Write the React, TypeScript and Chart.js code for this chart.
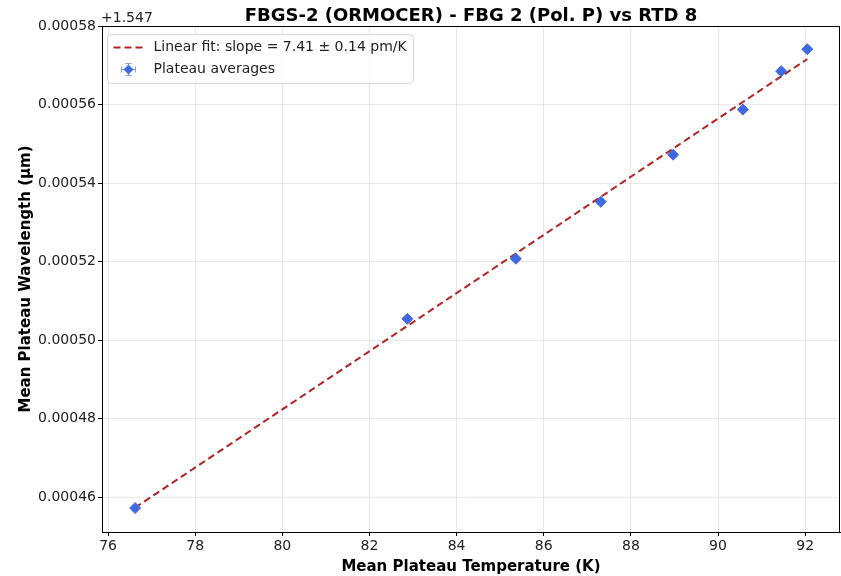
import React, { useEffect, useRef } from "react";
import { Chart, registerables } from "chart.js";

Chart.register(...registerables);

const TITLE = "FBGS-2 (ORMOCER) - FBG 2 (Pol. P) vs RTD 8";
const X_LABEL = "Mean Plateau Temperature (K)";
const Y_LABEL = "Mean Plateau Wavelength (µm)";
const Y_OFFSET_LABEL = "+1.547";
const FIT_LABEL = "Linear fit: slope = 7.41 ± 0.14 pm/K";
const POINT_LABEL = "Plateau averages";

// Mean plateau temperatures (K)
const temperatures = [76.62, 82.87, 85.36, 87.31, 88.97, 90.57, 91.45, 92.05];
// Mean plateau wavelength minus 1.547 µm
const wavelengths = [0.0004572, 0.0005054, 0.0005207, 0.0005352, 0.0005472, 0.0005587, 0.0005685, 0.0005741];
const tempErr = [0.03, 0.03, 0.03, 0.03, 0.03, 0.03, 0.03, 0.03];
const wlErr = [0.0000006, 0.0000006, 0.0000006, 0.0000006, 0.0000006, 0.0000006, 0.0000006, 0.0000006];

// Fit line endpoints
const fitX = [76.62, 92.05];
const fitY = [0.0004573, 0.0005716];

const xTicks = [76, 78, 80, 82, 84, 86, 88, 90, 92];
const yTicks = [0.00046, 0.00048, 0.0005, 0.00052, 0.00054, 0.00056, 0.00058];

const FONT = "'DejaVu Sans', sans-serif";
const POINT_COLOR = "#4169E1";
const FIT_COLOR = "#B22222";

export default function App() {
  const ref = useRef<HTMLCanvasElement>(null);

  useEffect(() => {
    document.body.style.margin = "0";
    const canvas = ref.current!;

    const drawDiamond = (ctx: CanvasRenderingContext2D, x: number, y: number, r: number) => {
      ctx.beginPath();
      ctx.moveTo(x, y - r);
      ctx.lineTo(x + r, y);
      ctx.lineTo(x, y + r);
      ctx.lineTo(x - r, y);
      ctx.closePath();
      ctx.fill();
    };

    const decor = {
      id: "decor",
      beforeDatasetsDraw(chart: any) {
        const ctx = chart.ctx as CanvasRenderingContext2D;
        const xs = chart.scales.x;
        const ys = chart.scales.y;
        ctx.save();
        ctx.strokeStyle = POINT_COLOR;
        ctx.lineWidth = 1;
        temperatures.forEach((t, i) => {
          const px = xs.getPixelForValue(t);
          const py = ys.getPixelForValue(wavelengths[i]);
          const x0 = xs.getPixelForValue(t - tempErr[i]);
          const x1 = xs.getPixelForValue(t + tempErr[i]);
          const y0 = ys.getPixelForValue(wavelengths[i] - wlErr[i]);
          const y1 = ys.getPixelForValue(wavelengths[i] + wlErr[i]);
          ctx.beginPath();
          ctx.moveTo(x0, py); ctx.lineTo(x1, py);
          ctx.moveTo(px, y0); ctx.lineTo(px, y1);
          ctx.moveTo(px - 3, y0); ctx.lineTo(px + 3, y0);
          ctx.moveTo(px - 3, y1); ctx.lineTo(px + 3, y1);
          ctx.stroke();
        });
        ctx.restore();
      },
      afterDraw(chart: any) {
        const ctx = chart.ctx as CanvasRenderingContext2D;
        const a = chart.chartArea;
        ctx.save();
        // frame
        ctx.strokeStyle = "#000";
        ctx.lineWidth = 1;
        ctx.strokeRect(Math.round(a.left) + 0.5, Math.round(a.top) + 0.5, Math.round(a.right - a.left) - 1, Math.round(a.bottom - a.top));
        const cx = (a.left + a.right) / 2;
        // title
        ctx.fillStyle = "#000";
        ctx.textAlign = "center";
        ctx.textBaseline = "alphabetic";
        ctx.font = `bold 18px ${FONT}`;
        ctx.fillText(TITLE, cx, 21);
        // x label
        ctx.font = `bold 15px ${FONT}`;
        ctx.fillText(X_LABEL, cx, 571);
        // y label
        ctx.save();
        ctx.translate(30, (a.top + a.bottom) / 2);
        ctx.rotate(-Math.PI / 2);
        ctx.fillText(Y_LABEL, 0, 0);
        ctx.restore();
        // offset
        ctx.textAlign = "left";
        ctx.font = `14px ${FONT}`;
        ctx.fillStyle = "#222";
        ctx.fillText(Y_OFFSET_LABEL, a.left - 1, 22);
        // legend box
        const bx = a.left + 5.5, by = a.top + 8.5, bw = 306, bh = 49, r = 4;
        ctx.beginPath();
        ctx.moveTo(bx + r, by);
        ctx.lineTo(bx + bw - r, by);
        ctx.quadraticCurveTo(bx + bw, by, bx + bw, by + r);
        ctx.lineTo(bx + bw, by + bh - r);
        ctx.quadraticCurveTo(bx + bw, by + bh, bx + bw - r, by + bh);
        ctx.lineTo(bx + r, by + bh);
        ctx.quadraticCurveTo(bx, by + bh, bx, by + bh - r);
        ctx.lineTo(bx, by + r);
        ctx.quadraticCurveTo(bx, by, bx + r, by);
        ctx.closePath();
        ctx.fillStyle = "rgba(255,255,255,0.8)";
        ctx.fill();
        ctx.strokeStyle = "#d5d5d5";
        ctx.stroke();
        // fit entry
        const ly1 = by + 13;
        ctx.strokeStyle = FIT_COLOR;
        ctx.lineWidth = 2;
        ctx.setLineDash([7, 4]);
        ctx.beginPath();
        ctx.moveTo(bx + 6, ly1);
        ctx.lineTo(bx + 35, ly1);
        ctx.stroke();
        ctx.setLineDash([]);
        ctx.fillStyle = "#222";
        ctx.font = `14px ${FONT}`;
        ctx.textBaseline = "middle";
        ctx.fillText(FIT_LABEL, bx + 46, ly1);
        // point entry
        const ly2 = by + 35;
        const mx = bx + 21;
        ctx.strokeStyle = "#8a9fd8";
        ctx.lineWidth = 1;
        ctx.beginPath();
        ctx.moveTo(mx - 7, ly2); ctx.lineTo(mx + 7, ly2);
        ctx.moveTo(mx, ly2 - 6); ctx.lineTo(mx, ly2 + 6);
        ctx.moveTo(mx - 3, ly2 - 6); ctx.lineTo(mx + 3, ly2 - 6);
        ctx.moveTo(mx - 3, ly2 + 6); ctx.lineTo(mx + 3, ly2 + 6);
        ctx.moveTo(mx - 7, ly2 - 3); ctx.lineTo(mx - 7, ly2 + 3);
        ctx.moveTo(mx + 7, ly2 - 3); ctx.lineTo(mx + 7, ly2 + 3);
        ctx.stroke();
        ctx.fillStyle = POINT_COLOR;
        drawDiamond(ctx, mx, ly2, 5);
        ctx.fillStyle = "#222";
        ctx.fillText(POINT_LABEL, bx + 46, ly2);
        ctx.restore();
      },
    };

    const chart = new Chart(canvas, {
      type: "scatter",
      data: {
        datasets: [
          {
            type: "scatter",
            label: POINT_LABEL,
            data: temperatures.map((t, i) => ({ x: t, y: wavelengths[i] })),
            pointStyle: "rectRot",
            pointRadius: 5.5,
            pointBackgroundColor: POINT_COLOR,
            pointBorderColor: POINT_COLOR,
            pointBorderWidth: 1,
            order: 1,
          },
          {
            type: "line",
            label: FIT_LABEL,
            data: fitX.map((x, i) => ({ x, y: fitY[i] })),
            borderColor: FIT_COLOR,
            borderWidth: 2,
            borderDash: [7, 4],
            pointRadius: 0,
            fill: false,
            showLine: true,
            order: 2,
          } as any,
        ],
      },
      options: {
        responsive: false,
        animation: false,
        layout: { autoPadding: false, padding: { top: 26, right: 1, left: 0, bottom: 0 } },
        plugins: {
          legend: { display: false },
          title: { display: false },
          tooltip: { enabled: false },
        },
        scales: {
          x: {
            type: "linear",
            min: 75.86,
            max: 92.8,
            afterFit: (s: any) => { s.height = 44; s.paddingLeft = 0; s.paddingRight = 0; },
            afterBuildTicks: (s: any) => { s.ticks = xTicks.map((v) => ({ value: v })); },
            ticks: {
              color: "#222",
              font: { family: FONT, size: 14 },
              padding: 2,
              maxRotation: 0,
              callback: (v: any) => String(v),
            },
            grid: { color: "rgba(0,0,0,0.09)", tickColor: "#000", tickLength: 4, lineWidth: 1 },
            border: { color: "#000", width: 1 },
          },
          y: {
            type: "linear",
            min: 0.0004511,
            max: 0.00058,
            afterFit: (s: any) => { s.width = 102; s.paddingTop = 0; s.paddingBottom = 0; },
            afterBuildTicks: (s: any) => { s.ticks = yTicks.map((v) => ({ value: v })); },
            ticks: {
              color: "#222",
              font: { family: FONT, size: 14 },
              padding: 2,
              callback: (v: any) => Number(v).toFixed(5),
            },
            grid: { color: "rgba(0,0,0,0.09)", tickColor: "#000", tickLength: 4, lineWidth: 1 },
            border: { color: "#000", width: 1 },
          },
        },
      },
      plugins: [decor],
    });
    return () => chart.destroy();
  }, []);

  return (
    <div style={{ width: 841, height: 576 }}>
      <canvas ref={ref} width={841} height={576} style={{ display: "block" }} />
    </div>
  );
}
